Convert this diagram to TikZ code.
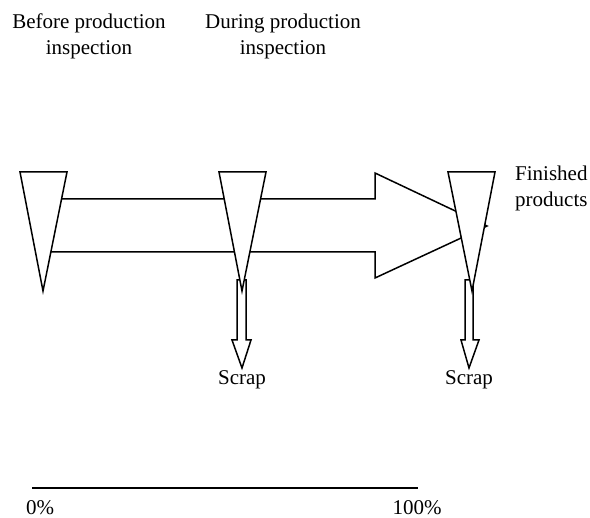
\documentclass[tikz,border=0pt]{standalone}
\usepackage{fontspec}
\setmainfont{Liberation Serif}
\begin{document}
\begin{tikzpicture}[x=1pt,y=-1pt,
  shape line/.style={draw=black,line width=1.5pt,fill=white},
  lbl/.style={inner sep=0pt,font=\fontsize{21}{26}\selectfont,align=center}]
\useasboundingbox (0,0) rectangle (590,518);
% main flow arrow
\draw[shape line] (43,199) -- (375,199) -- (375,173) -- (487,226) -- (375,278) -- (375,252) -- (43,252) -- cycle;
% scrap arrows
\draw[shape line] (237,280) -- (237,340) -- (232,340) -- (242,368) -- (251,340) -- (246,340) -- (246,280) -- cycle;
\draw[shape line] (465,280) -- (465,340) -- (461,340) -- (469,368) -- (479,340) -- (473,340) -- (473,280) -- cycle;
% inspection triangles
\draw[shape line] (20,172) -- (67,172) -- (43,291) -- cycle;
\draw[shape line] (219,172) -- (266,172) -- (242,291) -- cycle;
\draw[shape line] (448,172) -- (495,172) -- (472,291) -- cycle;
% labels
\node[lbl] (before) at (89,36) {Before production\\inspection};
\node[lbl] (during) at (283,36) {During production\\inspection};
\node[lbl,anchor=west,align=left] (finished) at (515,188) {Finished\\products};
\node[lbl] (scrap1) at (242,380) {Scrap};
\node[lbl] (scrap2) at (469,380) {Scrap};
% scale
\coordinate (s0) at (32,488);
\coordinate (s1) at (418,488);
\draw[line width=1.6pt] (s0) -- (s1);
\node[lbl] (p0) at (40,508) {0\%};
\node[lbl] (p100) at (417,508) {100\%};
\end{tikzpicture}
\end{document}
